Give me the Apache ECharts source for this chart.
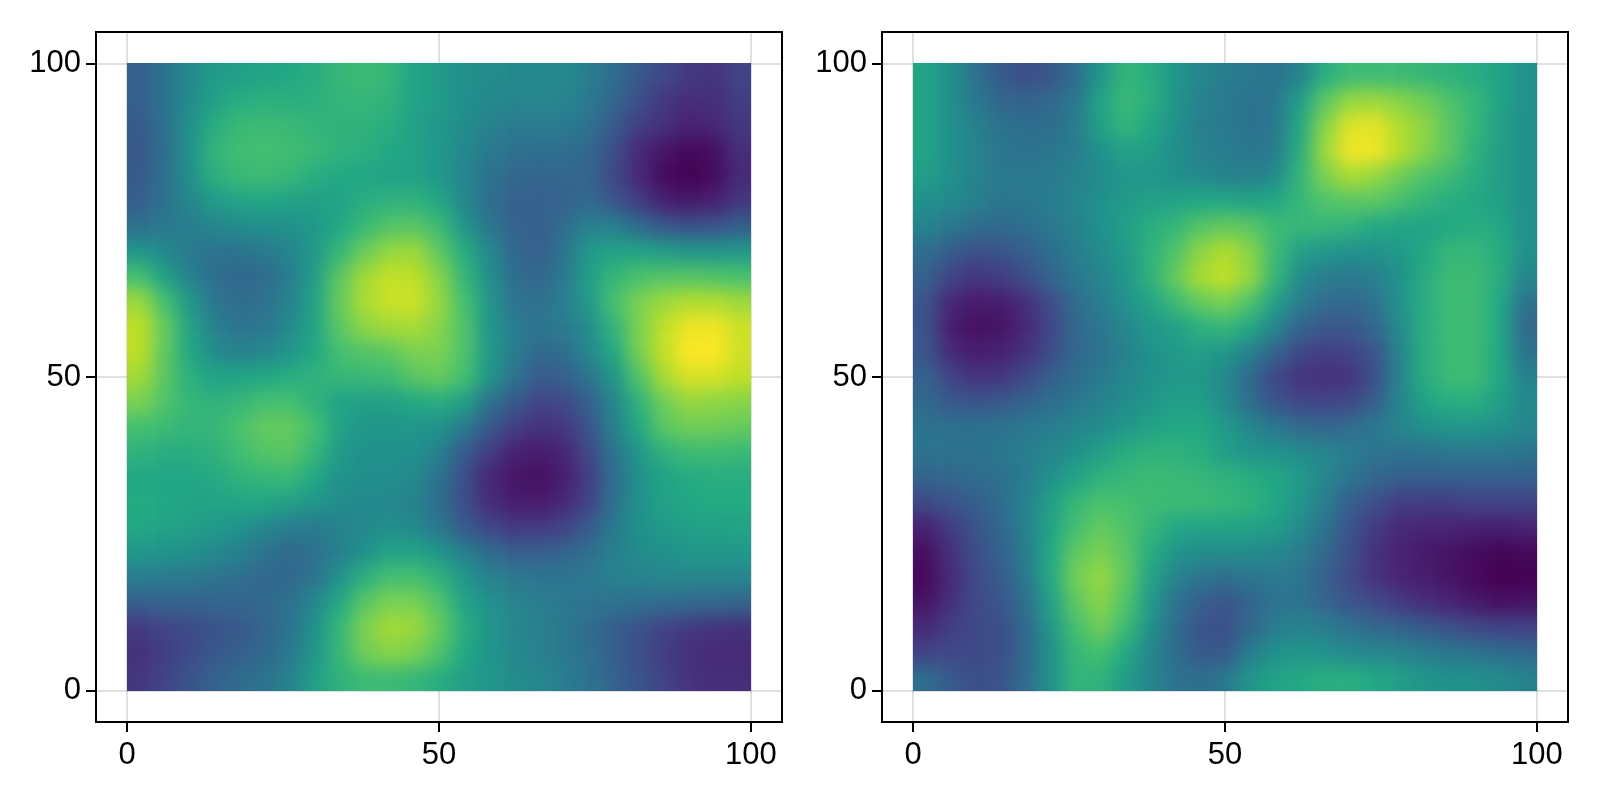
<!DOCTYPE html>
<html><head><meta charset="utf-8">
<script src="https://cdn.jsdelivr.net/npm/echarts@6/dist/echarts.min.js"></script>
<style>html,body{margin:0;padding:0;background:#fff}#c{width:1600px;height:800px}</style>
</head><body><div id="c"></div>
<script>
const cellSize = 4;
const tickValues = [0, 50, 100];
const leftRows = [
[30,38,47,54,56,58,60,62,66,68,66,58,54,50,48,47,47,47,42,36,28,22,17,15,20],
[30,38,48,57,62,63,63,63,65,66,64,58,54,50,47,45,45,45,40,33,24,16,13,13,18],
[28,37,50,62,67,68,67,65,64,64,62,57,53,48,44,41,41,41,37,28,18,14,9,11,16],
[27,36,50,65,69,70,69,67,64,63,60,57,52,47,41,37,36,36,33,24,12,6,2,4,13],
[28,37,49,63,67,68,66,62,60,59,58,57,53,46,38,33,32,33,32,22,12,3,0,3,12],
[30,38,46,54,58,59,57,56,58,62,64,64,60,46,36,31,30,31,34,27,18,9,7,9,16],
[37,40,42,45,48,49,50,53,60,67,73,74,68,52,40,31,30,35,43,43,35,28,25,26,30],
[52,47,41,38,38,41,45,53,66,77,84,85,75,62,47,34,30,38,54,58,58,55,52,52,53],
[70,57,44,36,33,35,42,55,74,86,91,90,82,66,50,36,33,40,55,66,71,73,73,72,71],
[85,70,52,39,35,37,44,57,76,87,92,92,84,70,52,38,36,42,53,70,80,85,88,88,85],
[90,76,58,43,38,39,47,58,74,83,86,87,82,72,52,42,38,41,48,65,80,90,97,98,92],
[90,75,60,48,44,46,52,60,70,73,75,80,80,72,54,42,34,36,46,60,79,91,100,100,93],
[86,74,63,58,58,60,62,64,66,67,68,74,76,70,52,38,28,30,38,52,72,87,94,94,90],
[80,72,66,64,66,70,70,64,58,56,56,60,62,56,38,28,20,22,30,46,64,78,84,83,82],
[70,68,65,66,71,76,76,70,58,52,52,52,50,42,28,18,14,16,26,44,60,74,78,78,76],
[64,62,62,64,69,73,74,66,54,50,50,50,44,28,18,9,7,10,22,38,52,64,68,68,67],
[60,59,59,61,64,66,67,60,51,49,49,47,38,24,11,6,4,8,18,36,50,58,61,62,62],
[61,60,58,58,59,59,56,52,48,47,47,44,36,24,13,8,7,11,20,37,50,57,60,61,61],
[60,58,56,54,51,46,42,41,44,47,49,47,40,29,21,17,17,20,28,41,50,54,56,57,58],
[52,51,50,47,43,38,34,37,43,50,58,58,52,43,35,30,30,32,36,43,48,50,52,53,53],
[42,41,40,38,36,33,33,38,50,63,70,70,64,52,44,40,38,38,40,43,44,45,45,45,45],
[30,31,31,32,32,34,37,46,60,74,80,80,72,58,50,45,42,40,38,37,36,35,34,33,32],
[17,20,23,25,28,32,38,50,66,80,86,85,76,62,52,46,43,40,35,30,25,20,17,15,14],
[14,18,23,27,30,34,40,52,66,78,82,80,72,60,52,47,43,40,36,30,24,18,14,12,12],
[16,20,26,31,35,38,44,56,64,68,68,66,62,56,52,48,46,42,38,32,26,20,15,13,13]
];
const rightRows = [
[58,50,38,28,24,27,36,52,65,62,52,46,42,40,38,44,62,68,68,68,66,64,62,58,50],
[58,50,40,33,31,34,40,58,67,63,52,44,41,38,40,55,74,84,85,82,78,72,66,58,50],
[58,50,44,38,36,36,42,57,65,60,50,43,41,38,40,60,82,95,96,88,83,74,66,57,50],
[58,50,44,39,38,39,42,50,57,55,49,44,42,39,42,62,85,98,98,89,82,74,64,56,50],
[55,50,44,40,40,41,44,48,52,52,50,47,44,43,48,65,80,87,84,78,72,68,62,56,50],
[50,47,43,39,40,42,45,50,54,56,58,60,60,58,60,66,72,74,74,70,65,62,60,56,50],
[44,40,36,34,36,40,44,50,56,62,66,73,76,74,68,66,66,64,60,58,58,60,62,60,50],
[36,29,24,26,30,36,42,48,54,64,72,83,88,82,68,56,52,50,50,54,60,66,66,62,50],
[31,20,16,18,24,32,40,45,52,64,76,87,91,84,66,48,42,40,43,50,62,68,68,62,46],
[26,11,7,8,13,23,35,42,50,58,68,76,80,72,56,42,35,33,38,50,62,68,68,60,38],
[26,8,4,5,11,21,33,39,46,52,56,63,66,60,46,32,27,27,33,48,62,68,68,60,33],
[27,12,8,9,14,23,33,38,44,50,54,56,52,44,32,22,18,20,26,45,62,68,68,60,38],
[31,20,15,16,22,30,36,41,46,50,53,53,47,34,22,15,13,15,24,45,62,68,68,60,44],
[34,28,26,28,32,36,40,44,48,52,56,55,48,36,26,21,20,22,30,45,58,62,62,56,47],
[38,37,37,38,40,42,45,48,52,57,60,60,54,46,40,35,33,35,40,45,50,52,52,50,46],
[38,38,38,39,42,46,50,56,62,64,64,62,56,52,50,48,45,42,38,37,38,40,40,40,38],
[32,33,35,37,42,50,58,64,66,68,67,66,64,62,60,54,46,38,33,30,30,30,30,30,30],
[22,26,30,35,44,56,66,71,70,68,68,68,66,64,60,52,42,30,24,18,18,18,20,20,20],
[9,18,26,33,44,58,70,76,72,66,60,58,58,58,55,48,38,26,17,12,10,10,9,8,10],
[4,14,24,31,42,60,75,80,74,62,52,48,48,48,46,42,34,24,14,9,7,5,3,1,2],
[2,12,22,28,40,60,78,84,75,58,44,38,36,38,40,38,30,22,14,10,8,5,2,0,0],
[5,14,22,26,36,56,74,82,72,54,38,30,26,32,38,38,32,26,22,17,13,10,7,4,5],
[12,18,22,24,34,52,70,78,68,50,36,26,24,34,42,44,42,38,34,32,28,25,22,20,20],
[20,22,22,24,34,50,66,70,60,46,36,28,28,42,50,52,50,47,46,45,42,40,38,36,34],
[36,28,24,26,35,50,65,64,55,46,38,36,40,52,58,60,62,62,60,56,52,50,50,48,44]
];
const viridis = ['#440154','#482475','#414487','#355f8d','#2a788e','#21918c','#22a884','#44bf70','#7ad151','#bddf26','#fde725'];

function toCells(rows){
  const out=[];
  rows.forEach((row,r)=>row.forEach((v,c)=>{
    out.push([(c+.5)*cellSize,(rows.length-r-.5)*cellSize,v]);
  }));
  return out;
}
function axis(gridIndex,margin){
  return {
    gridIndex,type:'value',min:-5,max:105,
    axisLine:{show:false,onZero:false},
    axisTick:{show:true,length:10,lineStyle:{color:'#000',width:2},customValues:tickValues},
    axisLabel:{show:true,color:'#000',fontFamily:'Liberation Sans',fontSize:31,margin,customValues:tickValues},
    splitLine:{show:true,lineStyle:{color:'rgba(0,0,0,0.12)',width:2}}
  };
}
function renderCell(params,api){
  const x=api.value(0),y=api.value(1),h=cellSize/2;
  const p0=api.coord([x-h,y+h]),p1=api.coord([x+h,y-h]);
  const pad=40;
  const x0=x-h<=0?p0[0]-pad:p0[0], x1=x+h>=100?p1[0]+pad:p1[0];
  const y0=y+h>=100?p0[1]-pad:p0[1], y1=y-h<=0?p1[1]+pad:p1[1];
  return {type:'rect',shape:{x:x0,y:y0,width:x1-x0+.5,height:y1-y0+.5},style:{fill:api.visual('color')}};
}
const chart=echarts.init(document.getElementById('c'),null,{renderer:'canvas'});
chart.setOption({
  animation:false,backgroundColor:'#fff',
  grid:[
    {left:96,top:32,width:686,height:690,show:true,borderColor:'#000',borderWidth:2,backgroundColor:'transparent'},
    {left:882,top:32,width:686,height:690,show:true,borderColor:'#000',borderWidth:2,backgroundColor:'transparent'}
  ],
  xAxis:[axis(0,18),axis(1,18)],
  yAxis:[axis(0,15),axis(1,15)],
  visualMap:{show:false,type:'continuous',min:0,max:100,dimension:2,seriesIndex:[0,1],inRange:{color:viridis}},
  series:[
    {type:'custom',xAxisIndex:0,yAxisIndex:0,zlevel:1,clip:false,renderItem:renderCell,data:toCells(leftRows)},
    {type:'custom',xAxisIndex:1,yAxisIndex:1,zlevel:1,clip:false,renderItem:renderCell,data:toCells(rightRows)}
  ]
});
// Soften the measured cells on screen only: this is a display style on the cell layer.
const layers=document.querySelectorAll('#c canvas');
if(layers.length>1){
  const top=layers[layers.length-1];
  top.style.filter='blur(9px)';
  top.style.clipPath="path('M127 63H751V691H127Z M913 63H1537V691H913Z')";
}
</script></body></html>
